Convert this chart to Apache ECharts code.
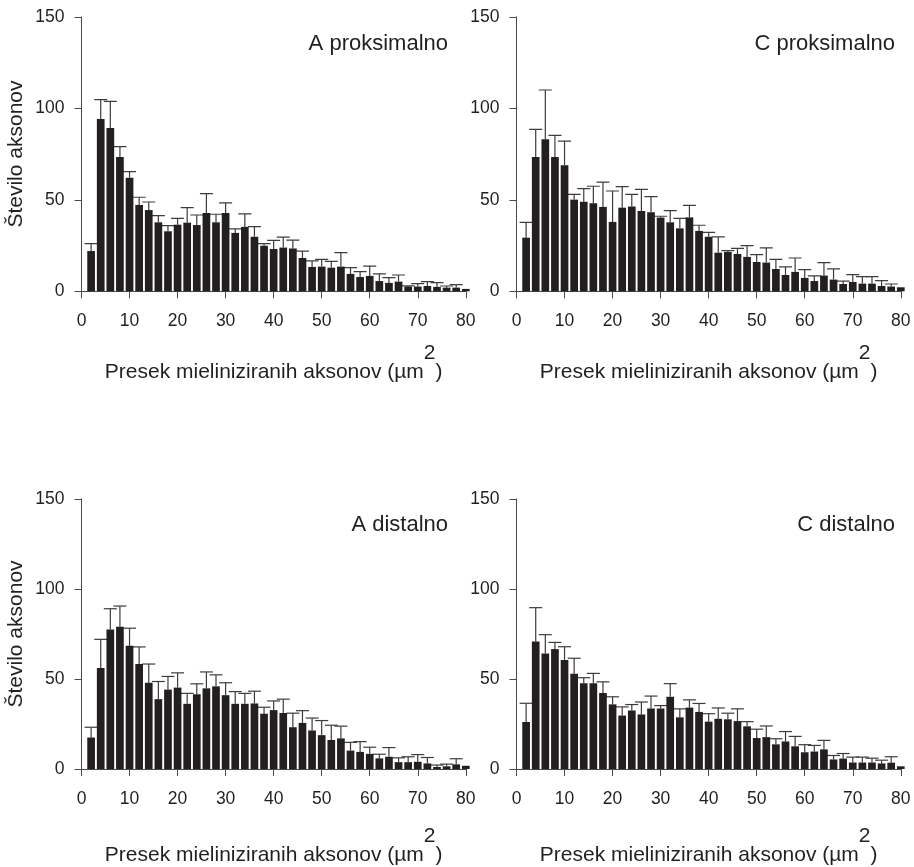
<!DOCTYPE html>
<html>
<head>
<meta charset="utf-8">
<script src="https://cdn.jsdelivr.net/npm/echarts@6/dist/echarts.min.js"></script>
<style>
  html, body { margin: 0; padding: 0; background: #fff; }
  #chart { width: 914px; height: 867px; }
</style>
</head>
<body>
<div id="chart"></div>
<script>
// Histogram of myelinated axon cross-sections: mean count per 2 µm² bin, with SE.
const binCentres = [2, 4, 6, 8, 10, 12, 14, 16, 18, 20, 22, 24, 26, 28, 30, 32, 34, 36, 38, 40,
  42, 44, 46, 48, 50, 52, 54, 56, 58, 60, 62, 64, 66, 68, 70, 72, 74, 76, 78, 80];
const xTicks = [0, 10, 20, 30, 40, 50, 60, 70, 80];
const yTicks = [0, 50, 100, 150];

const aProxMean = [22.0, 94.2, 89.3, 73.4, 62.1, 47.2, 44.4, 37.7, 32.8, 36.4, 37.5, 36.2, 42.8, 37.7, 42.8, 31.9, 35.2, 29.8, 24.9, 23.1,
  23.9, 23.4, 18.2, 13.3, 13.5, 12.9, 13.5, 9.5, 7.8, 8.4, 5.6, 4.6, 5.3, 2.6, 2.6, 2.9, 2.4, 2.0, 2.0, 1.3];
const aProxSe = [4.0, 10.5, 14.5, 5.7, 3.3, 4.2, 4.4, 3.6, 3.1, 3.5, 8.2, 5.5, 10.6, 4.4, 5.5, 2.2, 7.1, 5.5, 1.2, 4.7,
  5.7, 4.6, 3.8, 3.3, 4.0, 3.5, 7.6, 3.4, 2.9, 5.4, 3.9, 2.9, 3.6, 0.4, 1.6, 2.4, 2.3, 0.9, 1.6, 0];

const cProxMean = [29.3, 73.4, 83.1, 73.4, 68.9, 50.1, 49.0, 48.1, 46.1, 37.9, 45.7, 46.3, 43.9, 43.2, 40.3, 37.7, 34.4, 40.4, 33.0, 29.8,
  21.1, 21.5, 20.4, 18.8, 16.0, 15.7, 12.2, 8.9, 10.6, 7.3, 5.6, 8.6, 6.4, 4.0, 5.1, 4.2, 4.2, 2.9, 2.6, 2.2];
const cProxSe = [8.4, 15.1, 26.9, 11.8, 13.2, 2.9, 7.1, 9.3, 13.6, 16.9, 11.5, 6.7, 11.8, 8.5, 0.7, 6.4, 5.5, 6.6, 3.1, 2.4,
  8.6, 0.7, 3.1, 6.2, 4.0, 8.0, 5.3, 4.4, 7.6, 4.5, 2.8, 7.1, 5.8, 1.6, 4.0, 3.8, 3.8, 2.9, 1.4, 0];

const aDistMean = [17.5, 56.1, 77.5, 79.0, 68.4, 58.3, 47.9, 38.8, 44.1, 45.2, 36.2, 41.5, 44.8, 45.9, 41.0, 36.2, 36.2, 36.4, 30.7, 32.7,
  31.1, 23.2, 25.6, 21.4, 18.8, 16.1, 17.0, 10.2, 9.5, 8.4, 5.9, 6.8, 3.8, 3.8, 4.0, 3.1, 1.1, 1.5, 2.6, 1.8];
const aDistSe = [5.7, 15.9, 11.5, 11.5, 9.8, 9.5, 10.4, 9.8, 7.3, 8.2, 5.8, 5.8, 9.1, 6.4, 6.9, 6.8, 5.8, 6.8, 3.6, 5.1,
  7.7, 7.8, 6.8, 6.9, 8.1, 8.2, 6.8, 4.6, 5.7, 3.7, 2.3, 5.1, 2.4, 3.0, 4.0, 3.3, 1.1, 1.2, 3.1, 0];

const cDistMean = [26.1, 70.8, 64.2, 66.6, 60.6, 52.9, 47.6, 47.6, 42.2, 35.9, 29.7, 32.5, 30.3, 33.6, 33.6, 40.1, 28.7, 34.1, 31.7, 26.3,
  27.9, 27.6, 26.6, 23.7, 17.2, 17.7, 13.7, 15.3, 12.6, 9.3, 9.7, 10.9, 5.3, 5.8, 3.6, 3.6, 3.6, 3.1, 3.5, 1.5];
const cDistSe = [10.4, 18.8, 10.4, 3.7, 7.3, 8.6, 3.1, 5.5, 6.2, 4.2, 4.8, 3.3, 6.9, 6.9, 1.6, 7.3, 4.7, 4.3, 4.7, 4.4,
  6.0, 3.4, 6.8, 2.6, 4.9, 6.2, 3.1, 5.5, 5.5, 4.2, 3.4, 5.0, 2.2, 2.8, 3.0, 3.0, 2.4, 1.8, 3.3, 0];

const panelTitles = ['A proksimalno', 'C proksimalno', 'A distalno', 'C distalno'];
const yAxisTitle = 'Število aksonov';
const xAxisTitle = 'Presek mieliniziranih aksonov (µm';

const panels = [
  { mean: aProxMean, se: aProxSe, left: 81.5, top: 16.8, height: 274.5, nameGap: 51, titleX: 448, titleY: 44 },
  { mean: cProxMean, se: cProxSe, left: 516.5, top: 16.8, height: 274.5, nameGap: 51, titleX: 895, titleY: 44 },
  { mean: aDistMean, se: aDistSe, left: 81.5, top: 498.9, height: 273.4, nameGap: 57, titleX: 448, titleY: 525 },
  { mean: cDistMean, se: cDistSe, left: 516.5, top: 498.9, height: 273.4, nameGap: 57, titleX: 895, titleY: 525 },
];

const FONT = 'Liberation Sans, Arial, Helvetica, sans-serif';
const INK = '#231f20';
const AXIS = '#4a4a4a';

const chart = echarts.init(document.getElementById('chart'), null, { renderer: 'canvas' });

const grid = [], xAxis = [], yAxis = [], series = [], graphic = [];

panels.forEach((p, i) => {
  grid.push({ left: p.left, top: p.top, width: 384.3, height: p.height });
  xAxis.push({
    gridIndex: i, type: 'value', min: 0, max: 80, interval: 10,
    axisLine: { lineStyle: { color: AXIS, width: 1 } },
    axisTick: { length: 7, lineStyle: { color: AXIS } },
    axisLabel: { margin: 21, fontSize: 17.5, color: INK, fontFamily: FONT,
      formatter: v => xTicks.includes(v) ? String(v) : '' },
    splitLine: { show: false },
    name: '{t|' + xAxisTitle + '}{s|2}{t|)}',
    nameLocation: 'middle', nameGap: p.nameGap,
    nameTextStyle: {
      rich: {
        t: { fontSize: 21, color: INK, fontFamily: FONT, verticalAlign: 'bottom' },
        s: { fontSize: 21, color: INK, fontFamily: FONT, verticalAlign: 'bottom', padding: [0, 0, 19, 0] },
      },
    },
  });
  yAxis.push({
    gridIndex: i, type: 'value', min: 0, max: 150, interval: 50,
    axisLine: { show: true, lineStyle: { color: AXIS, width: 1 } },
    axisTick: { show: true, length: 7, lineStyle: { color: AXIS } },
    axisLabel: { margin: 17, fontSize: 17.5, color: INK, fontFamily: FONT,
      formatter: v => yTicks.includes(v) ? String(v) : '' },
    splitLine: { show: false },
    name: i % 2 === 0 ? yAxisTitle : '',
    nameLocation: 'middle', nameGap: 55,
    nameTextStyle: { fontSize: 21, color: INK, fontFamily: FONT },
  });

  series.push({
    type: 'bar', xAxisIndex: i, yAxisIndex: i,
    barWidth: 7.7, clip: true, silent: true,
    itemStyle: { color: INK },
    data: binCentres.map((x, k) => [x, p.mean[k]]),
  });

  series.push({
    type: 'custom', xAxisIndex: i, yAxisIndex: i, clip: true, silent: true,
    data: binCentres.map((x, k) => [x, p.mean[k], p.mean[k] + p.se[k]]),
    renderItem: (params, api) => {
      if (api.value(2) - api.value(1) <= 0) return;
      const base = api.coord([api.value(0), api.value(1)]);
      const top = api.coord([api.value(0), api.value(2)]);
      const style = { stroke: '#3c3c3c', lineWidth: 1.2 };
      return {
        type: 'group',
        children: [
          { type: 'line', shape: { x1: base[0], y1: base[1], x2: top[0], y2: top[1] }, style },
          { type: 'line', shape: { x1: top[0] - 6.5, y1: top[1], x2: top[0] + 6.5, y2: top[1] }, style },
        ],
      };
    },
  });

  graphic.push({
    type: 'text', x: p.titleX, y: p.titleY,
    style: { text: panelTitles[i], font: '22px ' + FONT, fill: INK, align: 'right', verticalAlign: 'middle' },
  });
});

chart.setOption({
  animation: false,
  backgroundColor: '#fff',
  grid, xAxis, yAxis, series, graphic,
});
</script>
</body>
</html>
